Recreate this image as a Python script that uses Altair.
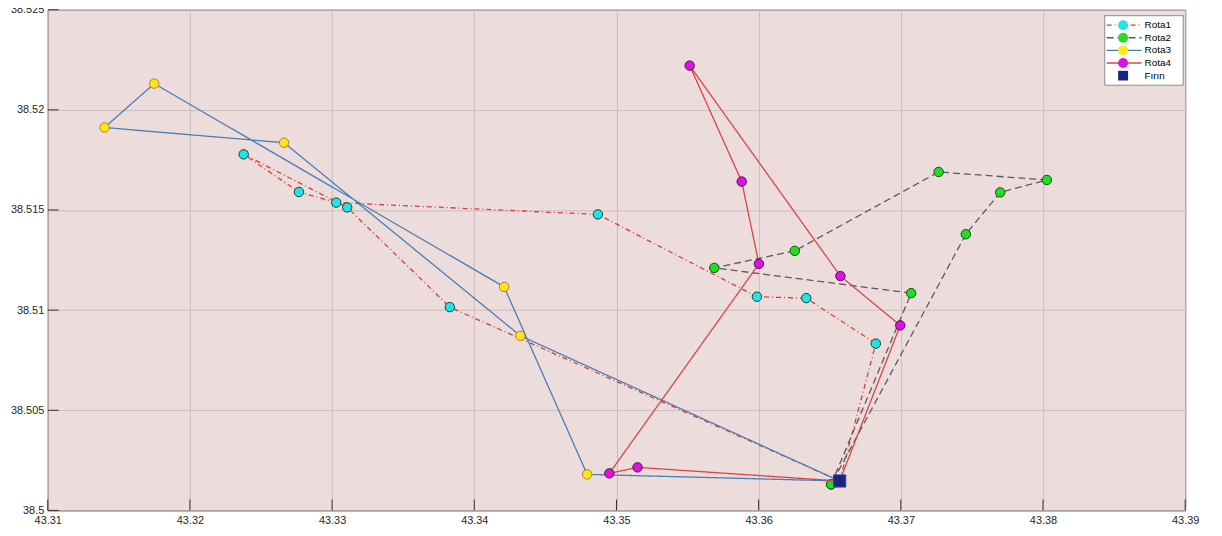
import altair as alt
import pandas as pd

# ---------------- data ----------------
route_names = ["Rota1", "Rota2", "Rota3", "Rota4"]
depot_name = "Fırın"
legend_keys = ["k1", "k2", "k3", "k4", "k5"]
dot_keys = ["z1", "z2", "z3", "z4", "z5"]

depot_x = [43.3657]
depot_y = [38.50147]

rota1_x = [43.3657, 43.36824, 43.36335, 43.35988, 43.34869, 43.33029, 43.32767, 43.32378, 43.33106, 43.33828, 43.3657]
rota1_y = [38.50147, 38.50833, 38.51060, 38.51067, 38.51478, 38.51537, 38.51590, 38.51778, 38.51513, 38.51015, 38.50147]

rota2_x = [43.3651, 43.37073, 43.35688, 43.36254, 43.37266, 43.38027, 43.37699, 43.37457, 43.3651]
rota2_y = [38.50130, 38.51085, 38.51211, 38.51296, 38.51690, 38.51650, 38.51588, 38.51379, 38.50130]

rota3_x = [43.3657, 43.34324, 43.32662, 43.31400, 43.31749, 43.34210, 43.34794, 43.3657]
rota3_y = [38.50147, 38.50872, 38.51836, 38.51912, 38.52131, 38.51116, 38.50180, 38.50147]

rota4_x = [43.3657, 43.35148, 43.34950, 43.36002, 43.35881, 43.35515, 43.36575, 43.36996, 43.3657]
rota4_y = [38.50147, 38.50215, 38.50185, 38.51231, 38.51642, 38.52221, 38.51170, 38.50924, 38.50147]

x_ticks = [43.31, 43.32, 43.33, 43.34, 43.35, 43.36, 43.37, 43.38, 43.39]
y_ticks = [38.5, 38.505, 38.51, 38.515, 38.52, 38.525]

# ---------------- styles ----------------
line_colors = ["#d63c3c", "#5a5a5a", "#4a7db5", "#d84545", "transparent"]
line_dashes = [[5, 3, 1, 3], [7, 4], [1, 0], [1, 0], [1, 0]]
marker_fills = ["#22e4e4", "#22dd22", "#f8e81c", "#e010e0", "#1c2280"]
marker_shapes = ["circle", "circle", "circle", "circle", "square"]
marker_edges = ["#1a3c3c", "#164a16", "#c07a18", "#4a104a"]
dot_opacity = [0, 0, 0, 0, 1]

rows = []
for name, key, xs_, ys_ in zip(route_names, legend_keys,
                               [rota1_x, rota2_x, rota3_x, rota4_x],
                               [rota1_y, rota2_y, rota3_y, rota4_y]):
    for i, (xv, yv) in enumerate(zip(xs_, ys_)):
        rows.append({"route": name, "key": key, "idx": i, "x": xv, "y": yv})
df = pd.DataFrame(rows)
df_depot = pd.DataFrame({"route": [depot_name], "key": ["k5"], "z": ["z5"],
                         "x": depot_x, "y": depot_y})
df_xt = pd.DataFrame({"x": x_ticks})
df_yt = pd.DataFrame({"y": y_ticks})
df_box = pd.DataFrame({"box": ["legend"]})

FONT = "Liberation Sans"

xscale = alt.Scale(domain=[43.31, 43.39], nice=False, zero=False)
yscale = alt.Scale(domain=[38.5, 38.525], nice=False, zero=False)

xaxis = alt.Axis(values=x_ticks, labelExpr="format(datum.value, '.2f')", title=None,
                 domain=False, ticks=False, tickSize=0, labelPadding=4, labelFlush=False,
                 labelOverlap=False, grid=True, gridColor="#c9bdbd", gridWidth=1,
                 labelFont=FONT, labelFontSize=11, labelColor="#262626")
yaxis = alt.Axis(values=y_ticks, labelExpr="format(datum.value, '.3~f')", title=None,
                 domain=False, ticks=False, tickSize=0, labelPadding=4, labelFlush=False,
                 labelOverlap=False, grid=True, gridColor="#c9bdbd", gridWidth=1,
                 labelFont=FONT, labelFontSize=11, labelColor="#262626")

X = alt.X("x:Q", scale=xscale, axis=xaxis)
Y = alt.Y("y:Q", scale=yscale, axis=yaxis)

all_names = route_names + [depot_name]
stroke_scale = alt.Scale(domain=all_names, range=line_colors)
dash_scale = alt.Scale(domain=all_names, range=line_dashes)
fill_scale = alt.Scale(domain=legend_keys, range=marker_fills)
shape_scale = alt.Scale(domain=legend_keys, range=marker_shapes)
dot_scale = alt.Scale(domain=dot_keys, range=dot_opacity)

leg1 = alt.Legend(orient="none", legendX=1061, legendY=6, title=None,
                  symbolType="stroke", symbolSize=1225, symbolStrokeWidth=1.3,
                  clipHeight=11, rowPadding=1.7, padding=4, labelOffset=2,
                  labelFont=FONT, labelFontSize=10, labelColor="#000000",
                  fillColor="transparent", strokeColor="transparent")
leg2 = alt.Legend(orient="none", legendX=1073, legendY=6, title=None,
                  symbolSize=100, symbolStrokeWidth=1, symbolStrokeColor="#1e1e1e",
                  clipHeight=11, rowPadding=1.7, padding=4, labelOffset=2,
                  labelFont=FONT, labelFontSize=10, labelExpr="''")
leg3 = alt.Legend(orient="none", legendX=1073.5, legendY=6, title=None,
                  symbolType="circle", symbolSize=9, symbolStrokeWidth=0,
                  symbolFillColor="#e0205a", symbolStrokeColor="#e0205a",
                  clipHeight=11, rowPadding=1.7, padding=4, labelOffset=2,
                  labelFont=FONT, labelFontSize=10, labelExpr="''")

base = alt.Chart(df)
layers = []
for i, name in enumerate(route_names):
    sub = base.transform_filter(alt.datum.route == name)
    layers.append(
        sub.mark_line(strokeWidth=1.3, clip=True).encode(
            x=X, y=Y, order=alt.Order("idx:Q"),
            stroke=alt.Stroke("route:N", scale=stroke_scale, legend=leg1),
            strokeDash=alt.StrokeDash("route:N", scale=dash_scale, legend=leg1),
        )
    )
    layers.append(
        sub.mark_point(filled=True, size=90, opacity=1, strokeWidth=1).encode(
            x=X, y=Y,
            fill=alt.Fill("key:N", scale=fill_scale, legend=leg2),
            shape=alt.Shape("key:N", scale=shape_scale, legend=leg2),
            stroke=alt.value(marker_edges[i]),
        )
    )

depot = alt.Chart(df_depot)
layers.append(
    depot.mark_point(filled=True, size=150, opacity=1, strokeWidth=1).encode(
        x=X, y=Y,
        fill=alt.Fill("key:N", scale=fill_scale, legend=leg2),
        shape=alt.Shape("key:N", scale=shape_scale, legend=leg2),
        stroke=alt.value("#2a3cb0"),
    )
)
layers.append(
    depot.mark_point(filled=True, size=8, shape="circle", color="#e0205a").encode(
        x=X, y=Y,
        opacity=alt.Opacity("z:N", scale=dot_scale, legend=leg3),
    )
)

# inner tick marks (MATLAB style)
layers.append(
    alt.Chart(df_yt).mark_rule(color="#333333", strokeWidth=1).encode(
        y=Y, x=alt.value(0), x2=alt.value(11)
    )
)
layers.append(
    alt.Chart(df_xt).mark_rule(color="#333333", strokeWidth=1).encode(
        x=X, y=alt.value(504), y2=alt.value(493)
    )
)

# legend frame (white box behind the legend entries)
layers.append(
    alt.Chart(df_box).mark_rect(fill="#ffffff", stroke="#8a8a8a", strokeWidth=1).encode(
        x=alt.value(1064), x2=alt.value(1143), y=alt.value(6), y2=alt.value(76)
    )
)

chart = alt.layer(*layers).properties(
    width=1145, height=504,
    background="#ffffff",
    autosize=alt.AutoSizeParams(type="none"),
    padding={"left": 40, "top": 0, "right": 29, "bottom": 24},
).configure_view(
    fill="#eddcdc", stroke="#3c3c3c", strokeWidth=1
)

chart.save("out.html", embed_options={"renderer": "svg", "actions": False})
